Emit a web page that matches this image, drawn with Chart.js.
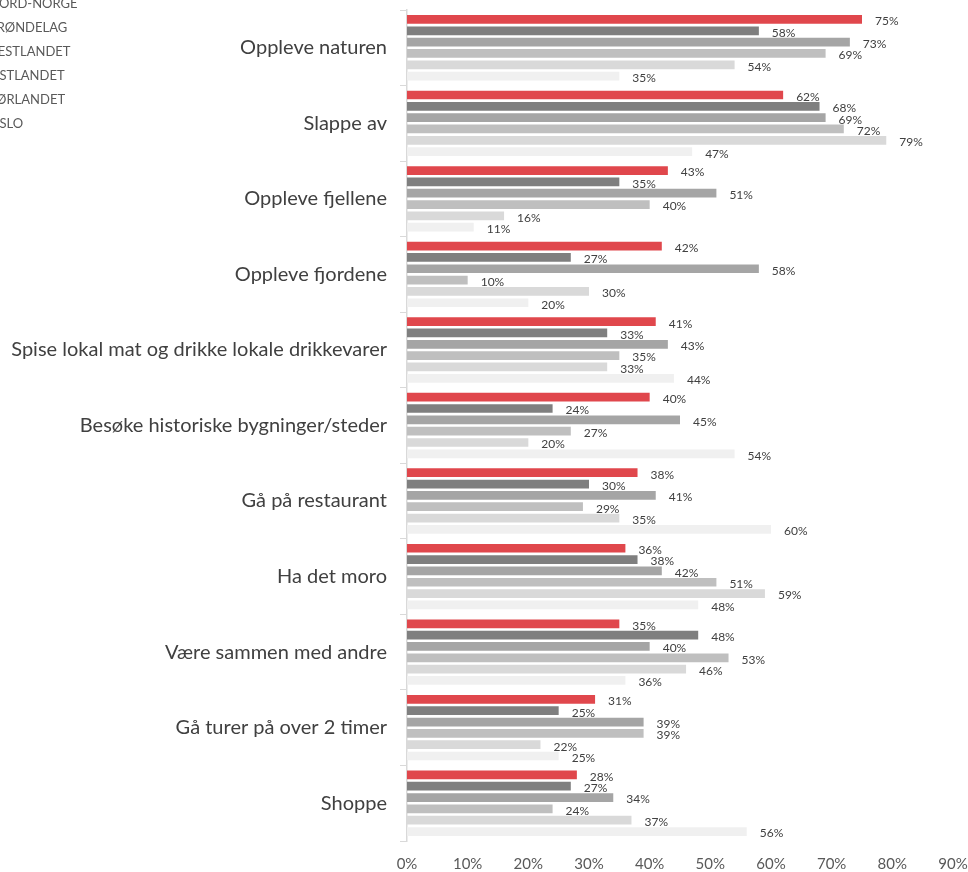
<!DOCTYPE html>
<html>
<head>
<meta charset="utf-8">
<script src="https://cdn.jsdelivr.net/npm/chart.js@4.4.1/dist/chart.umd.min.js"></script>
<style>
  body { margin: 0; background: #fff; overflow: hidden; }
  #wrap { position: relative; width: 968px; height: 872px; }
  #legend { position: absolute; left: -33px; top: -9px; font-family: Lato, sans-serif; font-size: 13px; color: #595959; }
  #legend div { height: 24px; line-height: 24px; white-space: nowrap; }
  #legend span { display: inline-block; width: 8px; height: 8px; margin-right: 14px; }
</style>
</head>
<body>
<div id="wrap">
  <canvas id="chart" width="968" height="872"></canvas>
  <div id="legend"></div>
</div>
<script>
// kategorier og verdier (prosent)
const kategorier = [
    'Oppleve naturen',
    'Slappe av',
    'Oppleve fjellene',
    'Oppleve fjordene',
    'Spise lokal mat og drikke lokale drikkevarer',
    'Besøke historiske bygninger/steder',
    'Gå på restaurant',
    'Ha det moro',
    'Være sammen med andre',
    'Gå turer på over 2 timer',
    'Shoppe'
];

const regioner = ['NORD-NORGE', 'TRØNDELAG', 'VESTLANDET', 'ØSTLANDET', 'SØRLANDET', 'OSLO'];

const nordNorge = [75, 62, 43, 42, 41, 40, 38, 36, 35, 31, 28];
const trondelag = [58, 68, 35, 27, 33, 24, 30, 38, 48, 25, 27];
const vestlandet = [73, 69, 51, 58, 43, 45, 41, 42, 40, 39, 34];
const ostlandet = [69, 72, 40, 10, 35, 27, 29, 51, 53, 39, 24];
const sorlandet = [54, 79, 16, 30, 33, 20, 35, 59, 46, 22, 37];
const oslo = [35, 47, 11, 20, 44, 54, 60, 48, 36, 25, 56];

const xTicks = [0, 10, 20, 30, 40, 50, 60, 70, 80, 90];

const farger = ['#E0474C', '#7F7F7F', '#A5A5A5', '#BFBFBF', '#D9D9D9', '#F0F0F0'];
const serier = [nordNorge, trondelag, vestlandet, ostlandet, sorlandet, oslo];

// legende i HTML (kuttet i venstre kant som i originalen)
const legend = document.getElementById('legend');
regioner.forEach((navn, i) => {
    const rad = document.createElement('div');
    const boks = document.createElement('span');
    boks.style.background = farger[i];
    rad.appendChild(boks);
    rad.appendChild(document.createTextNode(navn));
    legend.appendChild(rad);
});

// verdietiketter til høyre for hver stolpe
const etiketter = {
    id: 'etiketter',
    afterDatasetsDraw(chart) {
        const ctx = chart.ctx;
        ctx.save();
        ctx.font = '12px Lato, sans-serif';
        ctx.fillStyle = '#404040';
        ctx.textBaseline = 'middle';
        ctx.textAlign = 'left';
        chart.data.datasets.forEach((ds, i) => {
            chart.getDatasetMeta(i).data.forEach((bar, j) => {
                ctx.fillText(ds.data[j] + '%', bar.x + 13, bar.y + 2);
            });
        });
        ctx.restore();
    }
};

new Chart(document.getElementById('chart'), {
    type: 'bar',
    data: {
        labels: kategorier,
        datasets: regioner.map((navn, i) => ({
            label: navn,
            data: serier[i],
            backgroundColor: farger[i],
            categoryPercentage: 0.9,
            barPercentage: 0.77
        }))
    },
    options: {
        indexAxis: 'y',
        responsive: false,
        animation: false,
        layout: { padding: { top: 10, right: 0, left: 0, bottom: 0 } },
        plugins: {
            legend: { display: false },
            tooltip: { enabled: false }
        },
        scales: {
            x: {
                min: 0,
                max: 90,
                afterBuildTicks: (scale) => {
                    scale.ticks = xTicks.map(v => ({ value: v }));
                },
                grid: { display: false, drawTicks: false },
                border: { display: false },
                ticks: {
                    color: '#595959',
                    font: { family: 'Lato, sans-serif', size: 15 },
                    padding: 14,
                    callback: (v) => v + '%'
                },
                afterFit: (scale) => {
                    scale.height = 31;
                    scale.paddingLeft = 0;
                    scale.paddingRight = 15;
                }
            },
            y: {
                grid: {
                    offset: true,
                    drawOnChartArea: false,
                    drawTicks: true,
                    tickLength: 7,
                    color: '#D9D9D9'
                },
                border: { display: true, color: '#D9D9D9', width: 1.5 },
                ticks: {
                    color: '#404040',
                    font: { family: 'Lato, sans-serif', size: 20 },
                    padding: 13,
                    autoSkip: false
                },
                afterFit: (scale) => {
                    scale.width = 407;
                    scale.paddingTop = 0;
                    scale.paddingBottom = 0;
                }
            }
        }
    },
    plugins: [etiketter]
});
</script>
</body>
</html>
